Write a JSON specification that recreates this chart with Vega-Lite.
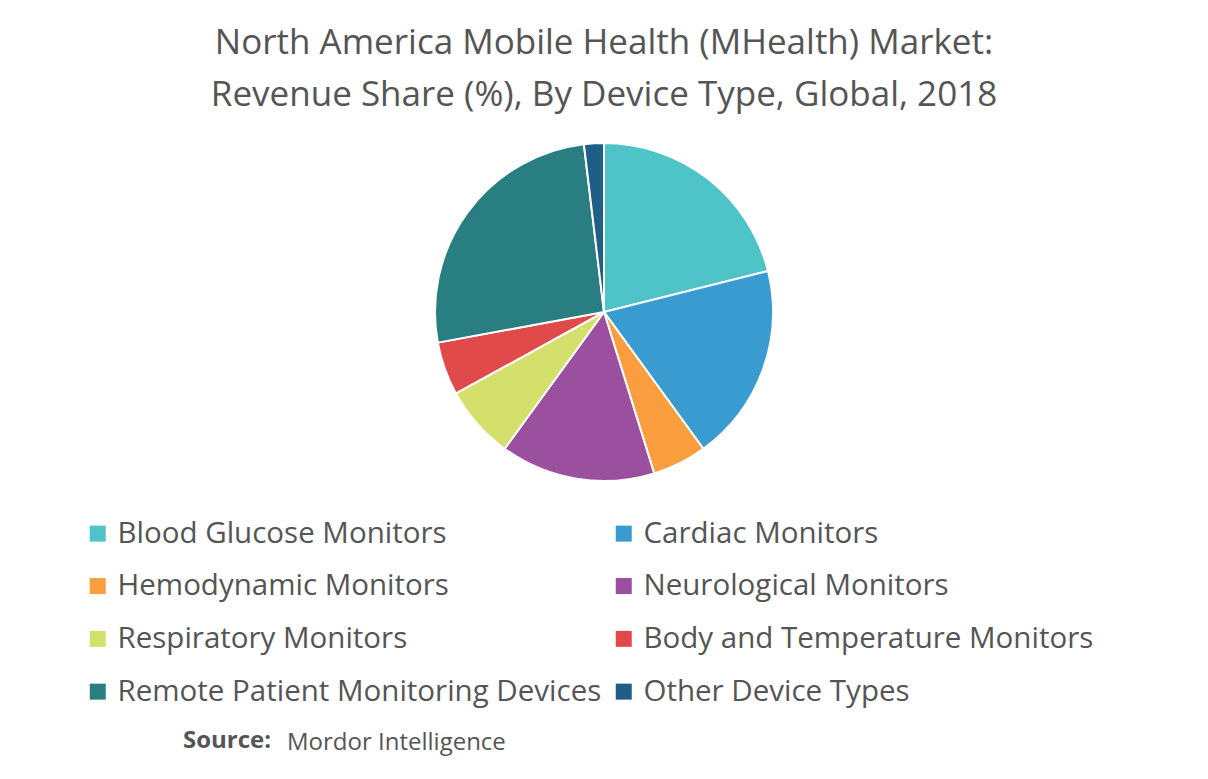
{
  "$schema": "https://vega.github.io/schema/vega-lite/v6.json",
  "background": "white",
  "padding": {"left": 0, "right": 0, "top": 26, "bottom": 20},
  "config": {"view": {"stroke": null}, "font": "Open Sans", "concat": {"spacing": 0}},
  "title": {
    "text": ["North America Mobile Health (MHealth) Market:", "Revenue Share (%), By Device Type, Global, 2018"],
    "fontSize": 35, "fontWeight": "normal", "color": "#555555", "lineHeight": 52, "anchor": "middle", "offset": 7
  },
  "vconcat": [
    {
      "title": {"text": "Source:", "orient": "bottom", "anchor": "start", "fontSize": 24, "fontWeight": "bold", "color": "#555555", "dx": 183, "dy": -26, "offset": 0},
      "vconcat": [
        {
          "title": {"text": "Mordor Intelligence", "orient": "bottom", "anchor": "start", "fontSize": 24, "fontWeight": "normal", "color": "#555555", "dx": 287, "offset": 227},
          "width": 1208,
          "height": 384,
          "data": {
            "values": [
              {"device": "Blood Glucose Monitors", "share": 21.1, "idx": 1},
              {"device": "Cardiac Monitors", "share": 18.9, "idx": 2},
              {"device": "Hemodynamic Monitors", "share": 5.2, "idx": 3},
              {"device": "Neurological Monitors", "share": 14.8, "idx": 4},
              {"device": "Respiratory Monitors", "share": 7.0, "idx": 5},
              {"device": "Body and Temperature Monitors", "share": 5.1, "idx": 6},
              {"device": "Remote Patient Monitoring Devices", "share": 26.0, "idx": 7},
              {"device": "Other Device Types", "share": 1.9, "idx": 8}
            ]
          },
          "mark": {"type": "arc", "outerRadius": 169, "stroke": "white", "strokeWidth": 2},
          "encoding": {
            "theta": {"field": "share", "type": "quantitative", "stack": true},
            "order": {"field": "idx", "type": "quantitative"},
            "color": {
              "field": "device", "type": "nominal", "sort": null,
              "scale": {
                "domain": ["Blood Glucose Monitors", "Hemodynamic Monitors", "Respiratory Monitors", "Remote Patient Monitoring Devices", "Cardiac Monitors", "Neurological Monitors", "Body and Temperature Monitors", "Other Device Types"],
                "range": ["#4FC4C8", "#F99D3F", "#D4E06B", "#287E80", "#3A9BD1", "#9B4F9F", "#E14A4B", "#1F5E86"]
              },
              "legend": {
                "title": null, "orient": "none", "legendX": 83, "legendY": 398.5, "columns": 2,
                "symbolType": "square", "symbolSize": 256, "symbolStrokeWidth": 0,
                "labelFontSize": 29.5, "labelColor": "#555555", "labelLimit": 0, "labelOffset": 5,
                "rowPadding": 21.8, "columnPadding": 7, "padding": 0
              }
            }
          }
        }
      ]
    }
  ]
}
